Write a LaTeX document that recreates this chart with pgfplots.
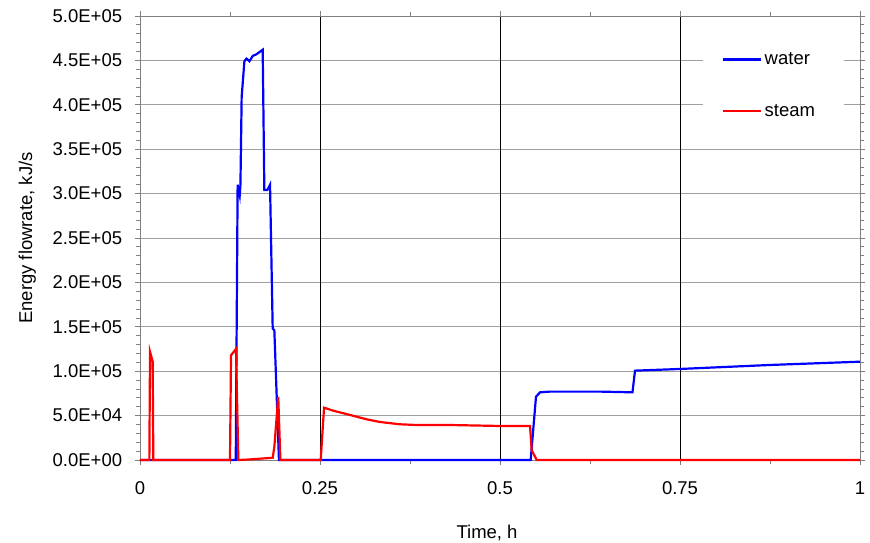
\documentclass[border=0pt]{standalone}
\usepackage{pgfplots}
\pgfplotsset{compat=1.18}
\usepackage{fontspec}
\setmainfont{Liberation Sans}

\definecolor{gridgray}{RGB}{160,160,160}
\definecolor{boxgray}{RGB}{128,128,128}
\definecolor{waterblue}{RGB}{0,0,255}
\definecolor{steamred}{RGB}{255,0,0}

\newcommand{\chartfont}{\fontsize{18.5}{22}\selectfont}

\begin{document}
\begin{tikzpicture}
\begin{axis}[
  name=ax,
  set layers,
  clip=false,
  scale only axis,
  width=720pt, height=444pt,
  xmin=0, xmax=1, ymin=0, ymax=5e5,
  scaled ticks=false,
  axis line style={boxgray, line width=0.8pt},
  tick style={boxgray, line width=0.8pt},
  tick align=outside,
  major tick length=5pt,
  minor tick length=4pt,
  xtick={0,0.25,0.5,0.75,1},
  xticklabels={0,0.25,0.5,0.75,1},
  minor x tick num=1,
  ytick={0,50000,100000,150000,200000,250000,300000,350000,400000,450000,500000},
  yticklabels={0.0E+00,5.0E+04,1.0E+05,1.5E+05,2.0E+05,2.5E+05,3.0E+05,3.5E+05,4.0E+05,4.5E+05,5.0E+05},
  minor y tick num=4,
  ymajorgrids,
  major grid style={gridgray, line width=0.8pt},
  extra x ticks={0.25,0.5,0.75},
  extra x tick labels={},
  extra x tick style={grid=major, major grid style={black, line width=0.8pt}},
  ticklabel style={font=\chartfont, text=black},
  xticklabel style={anchor=base, inner sep=0pt, yshift=-29.3pt},
  yticklabel style={anchor=east, inner sep=0pt, xshift=-12.7pt},
  xlabel={Time, h},
  ylabel={Energy flowrate, kJ/s},
  label style={font=\chartfont},
  xlabel style={at={(axis description cs:0.482,-0.1764)}, anchor=base},
  ylabel style={at={(axis description cs:-0.1563,0.5)}, anchor=center},
  legend style={at={(axis description cs:0.781,0.947)}, anchor=north west,
    draw=none, fill=white, font=\chartfont,
    inner xsep=19pt, inner ysep=10pt, row sep=32pt,
    nodes={inner sep=3pt}},
  legend cell align=left,
  legend image code/.code={\draw[#1, line width=2.2pt] (0pt,0pt) -- (38pt,0pt);},
]
\addplot[waterblue, line width=2.2pt] coordinates {
  (0,0) (0.1330,0) (0.1356,310000) (0.1385,298000) (0.1395,310000)
  (0.1412,409000) (0.1450,449000) (0.1480,452000) (0.1520,449000)
  (0.1565,455000) (0.1620,457000) (0.1704,462000) (0.1727,304000)
  (0.1769,304000) (0.1806,310000) (0.1843,148000) (0.1866,146000)
  (0.1930,0) (0.5426,0) (0.5500,71300) (0.5556,76200) (0.5694,77000)
  (0.6390,77000) (0.6840,76200) (0.6875,100600) (0.7500,102500)
  (0.8750,107000) (1.0000,110700)
};
\addlegendentry{water\hspace*{7pt}}
\addplot[steamred, line width=2.2pt] coordinates {
  (0,0) (0.0130,0) (0.0139,122000) (0.0176,111000) (0.0185,0)
  (0.1250,0) (0.1264,118000) (0.1333,125000) (0.1366,0)
  (0.1500,500) (0.1843,2500) (0.1866,15000) (0.1920,71000) (0.1950,0)
  (0.2500,0) (0.2510,0) (0.2556,58900) (0.2685,55500) (0.2917,50700)
  (0.3148,45800) (0.3333,42800) (0.3610,40200) (0.3840,39400)
  (0.4300,39400) (0.5000,38300) (0.5417,38300)
  (0.5440,11000) (0.5510,0) (1.0000,0)
};
\addlegendentry{steam\hspace*{7pt}}
\end{axis}
\pgfresetboundingbox
\path ([shift={(-140pt,-83pt)}]ax.south west) rectangle ([shift={(10pt,16pt)}]ax.north east);
\end{tikzpicture}
\end{document}
